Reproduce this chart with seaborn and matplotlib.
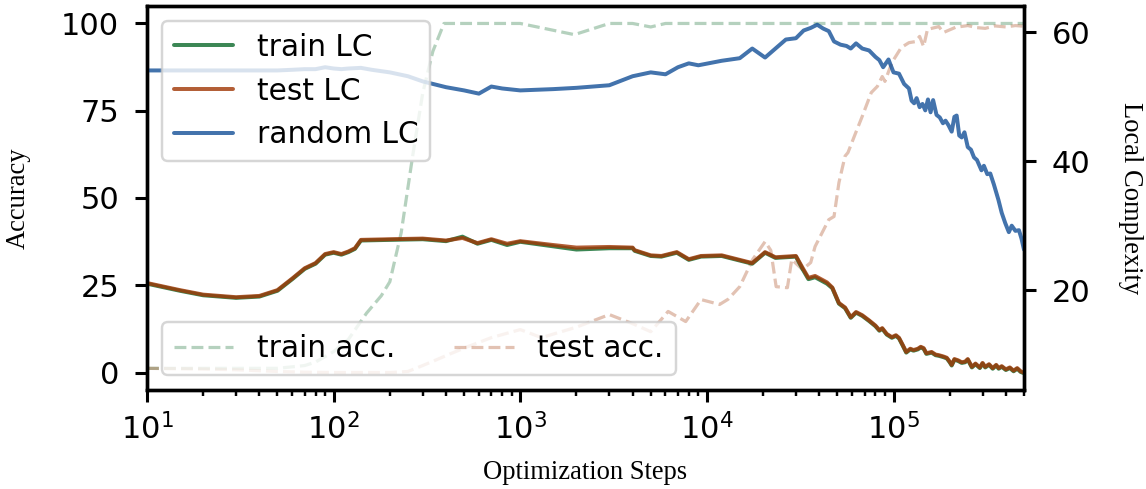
import numpy as np
import pandas as pd
import matplotlib
matplotlib.use("Agg")
import matplotlib.pyplot as plt
import seaborn as sns

# ---------------- data ----------------
rand_steps = [10, 20, 30, 40, 50, 60, 70, 80, 90, 100, 110, 120, 140, 160, 200, 250, 300, 400,
              500, 600, 700, 800, 1000, 1500, 2000, 3000, 4000, 5000, 6000, 7000, 8000, 9000,
              12000, 15000, 17500, 20500, 26500, 30000, 33000, 36000, 39000, 42000, 45000,
              48000, 52000, 56000, 59000, 63000, 68000, 74000, 80000, 84000, 88000, 94000,
              100000, 107000, 114000, 121000, 125000, 129000, 133000, 138000, 143000, 148000,
              153000, 158000, 163000, 170000, 177000, 184000, 190000, 197000, 205000, 212000,
              218000, 225000, 232000, 240000, 250000, 260000, 270000, 280000, 296000, 305000,
              318000, 330000, 345000, 365000, 380000, 397000, 415000, 430000, 450000, 470000,
              485000, 500000]
rand_lc = [54.1, 54.1, 54.1, 54.1, 54.1, 54.2, 54.3, 54.3, 54.6, 54.4, 54.3, 54.4, 54.5, 54.2,
           53.8, 53.2, 52.4, 51.5, 51.0, 50.5, 51.6, 51.3, 51.0, 51.2, 51.4, 51.8, 53.2, 53.8,
           53.5, 54.6, 55.2, 54.9, 55.6, 56.0, 57.5, 56.1, 58.9, 59.1, 60.3, 60.7, 61.2, 60.6,
           60.2, 58.6, 58.1, 57.9, 57.5, 58.3, 57.5, 57.2, 56.2, 55.7, 54.6, 55.8, 53.8, 53.6,
           52.0, 51.3, 49.4, 49.0, 49.8, 48.4, 48.9, 47.9, 49.6, 47.6, 49.5, 47.2, 46.8, 45.9,
           46.3, 45.6, 44.6, 46.9, 47.1, 44.0, 43.7, 44.5, 42.2, 41.8, 40.6, 40.2, 38.6, 39.3,
           38.0, 38.1, 36.4, 34.0, 32.0, 30.4, 29.0, 30.0, 29.2, 29.3, 28.0, 26.3]

lc_steps = [10, 15, 20, 30, 40, 50, 60, 70, 80, 90, 100, 110, 120, 130, 140, 200, 300, 400, 490,
            590, 700, 850, 1000, 1500, 2000, 3000, 4000, 4100, 5000, 5700, 6900, 8000, 9300,
            12000, 17500, 20500, 23300, 30000, 32500, 35000, 38000, 44000, 47000, 51000, 55000,
            59000, 63000, 68000, 74000, 80000, 84000, 87000, 92000, 98000, 103000, 107000,
            112000, 117000, 123000, 128000, 135000, 140000, 145000, 150000, 160000, 168000,
            175000, 185000, 193000, 200000, 205000, 212000, 222000, 232000, 242000, 250000,
            263000, 275000, 290000, 300000, 310000, 325000, 340000, 355000, 366000, 380000,
            400000, 420000, 440000, 460000, 480000, 500000]
test_lc = [21.1, 20.0, 19.3, 18.9, 19.1, 20.0, 21.8, 23.4, 24.2, 25.6, 25.9, 25.6, 26.0, 26.5,
           27.8, 27.9, 28.0, 27.7, 28.1, 27.3, 27.9, 27.2, 27.6, 27.0, 26.6, 26.7, 26.6, 26.2,
           25.4, 25.3, 25.9, 24.8, 25.3, 25.4, 24.2, 25.9, 25.1, 25.3, 23.5, 21.9, 22.2, 21.2,
           20.4, 18.0, 17.3, 15.8, 16.6, 16.1, 15.3, 14.5, 13.8, 14.1, 13.2, 12.7, 13.0, 12.6,
           11.5, 10.4, 10.9, 10.7, 10.9, 11.2, 11.0, 10.2, 10.4, 10.0, 9.9, 9.7, 9.5, 8.9, 8.4,
           9.3, 9.1, 8.8, 8.9, 9.3, 8.1, 8.6, 8.0, 8.7, 8.1, 8.5, 7.9, 8.4, 7.9, 8.2, 7.7, 8.0,
           7.5, 7.9, 7.4, 7.2]
train_lc = [21.0, 19.9, 19.2, 18.8, 19.0, 19.9, 21.7, 23.3, 24.1, 25.5, 25.8, 25.5, 25.9, 26.4,
            27.7, 27.8, 27.9, 27.6, 28.3, 27.2, 27.8, 27.0, 27.5, 26.8, 26.3, 26.5, 26.5, 26.1,
            25.3, 25.2, 25.8, 24.7, 25.2, 25.3, 24.1, 25.8, 25.0, 25.2, 23.3, 21.7, 22.0, 21.0,
            20.3, 17.9, 17.2, 15.7, 16.5, 16.0, 15.2, 14.4, 13.7, 14.0, 13.1, 12.6, 12.9, 12.5,
            11.4, 10.3, 10.8, 10.6, 10.8, 11.1, 10.9, 10.1, 10.3, 9.9, 9.8, 9.6, 9.4, 8.8, 8.3,
            9.2, 9.0, 8.7, 8.8, 9.2, 8.0, 8.5, 7.9, 8.6, 8.0, 8.4, 7.8, 8.3, 7.8, 8.1, 7.6, 7.9,
            7.4, 7.8, 7.3, 7.1]

train_acc_steps = [10, 20, 30, 50, 70, 80, 100, 120, 150, 180, 200, 230, 265, 300, 340, 390,
                   500, 1000, 1950, 3000, 4000, 5000, 6000, 10000, 100000, 500000]
train_acc = [1.2, 1.2, 1.2, 1.2, 2.0, 3.0, 6.0, 9.5, 17.0, 22.0, 26.0, 40.0, 62.0, 80.0, 92.0,
             100.0, 100.0, 100.0, 96.8, 100.0, 100.0, 99.0, 100.0, 100.0, 100.0, 100.0]

test_acc_steps = [10, 20, 30, 50, 70, 100, 200, 250, 300, 350, 415, 500, 700, 1000, 1300, 2000,
                  3000, 4000, 5000, 6200, 7700, 9300, 11700, 13000, 15000, 17600, 20500, 22000,
                  23500, 27000, 28500, 32500, 36000, 38000, 45000, 48000, 51000, 55000, 57000,
                  62000, 68000, 76000, 82000, 87000, 90000, 98000, 110000, 121000, 131000,
                  138000, 145000, 152000, 175000, 185000, 215000, 250000, 280000, 310000,
                  350000, 400000, 450000, 500000]
test_acc = [1.2, 1.0, 0.8, 0.3, 0.1, 0.0, 0.0, 0.3, 2.0, 3.5, 5.2, 7.0, 10.0, 12.3, 10.0, 13.0,
            16.6, 14.0, 11.7, 17.5, 14.6, 20.9, 19.5, 21.0, 24.6, 32.4, 37.5, 35.0, 24.6, 24.3,
            32.4, 29.5, 31.5, 36.1, 43.8, 44.7, 54.4, 62.0, 63.0, 68.0, 73.4, 80.2, 82.0, 84.8,
            83.4, 88.8, 93.1, 94.5, 94.8, 96.3, 93.4, 98.3, 99.1, 97.4, 98.9, 99.4, 98.8, 98.6,
            99.3, 99.0, 99.4, 99.2]

y_left_ticks = [0, 25, 50, 75, 100]
y_right_ticks = [20, 40, 60]

# ---------------- style ----------------
sns.set_style("ticks")
plt.rcParams.update({
    "font.family": ["DejaVu Sans"],
    "font.size": 10,
    "axes.edgecolor": "black",
    "axes.linewidth": 1.1,
    "xtick.color": "black",
    "ytick.color": "black",
    "text.color": "black",
    "axes.labelcolor": "black",
    "xtick.major.size": 3.9,
    "ytick.major.size": 3.9,
    "xtick.major.width": 1.0,
    "ytick.major.width": 1.0,
    "xtick.minor.size": 1.8,
    "xtick.minor.width": 0.8,
    "ytick.major.pad": 5.2,
    "legend.frameon": True,
    "legend.framealpha": 0.8,
    "legend.edgecolor": "0.8",
    "legend.fancybox": True,
})

c_train = (11 / 255, 105 / 255, 42 / 255)
c_test = (160 / 255, 54 / 255, 4 / 255)
c_rand = (20 / 255, 80 / 255, 152 / 255)

fig = plt.figure(figsize=(1146 / 220, 489 / 220), dpi=220)
ax1 = fig.add_axes([0.1283, 0.2025, 0.7652, 0.7852])
ax2 = ax1.twinx()

df_tr_acc = pd.DataFrame({"step": train_acc_steps, "acc": train_acc})
df_te_acc = pd.DataFrame({"step": test_acc_steps, "acc": test_acc})
df_rand = pd.DataFrame({"step": rand_steps, "lc": rand_lc})
df_lc = pd.DataFrame({"step": lc_steps, "train": train_lc, "test": test_lc})

sns.lineplot(data=df_tr_acc, x="step", y="acc", ax=ax1, color=c_train, alpha=0.3,
             linestyle="--", linewidth=1.05, legend=False)
h_tr_acc = ax1.lines[-1]
sns.lineplot(data=df_te_acc, x="step", y="acc", ax=ax1, color=c_test, alpha=0.3,
             linestyle="--", linewidth=1.05, legend=False)
h_te_acc = ax1.lines[-1]

sns.lineplot(data=df_lc, x="step", y="train", ax=ax2, color=c_train, alpha=0.8,
             linewidth=1.3, legend=False)
h_tr = ax2.lines[-1]
sns.lineplot(data=df_lc, x="step", y="test", ax=ax2, color=c_test, alpha=0.8,
             linewidth=1.3, legend=False)
h_te = ax2.lines[-1]
sns.lineplot(data=df_rand, x="step", y="lc", ax=ax2, color=c_rand, alpha=0.8,
             linewidth=1.3, legend=False)
h_ra = ax2.lines[-1]

ax1.set_xscale("log")
ax1.set_xlim(10, 5e5)
ax1.set_ylim(-5, 105)
ax1.set_yticks(y_left_ticks)
ax2.set_ylim(4.5, 64.1)
ax2.set_yticks(y_right_ticks)

serif = {"family": "Liberation Serif", "size": 8.7}
ax1.set_xlabel("Optimization Steps", fontdict=serif, labelpad=5)
ax1.set_ylabel("Accuracy", fontdict=serif, labelpad=10)
ax2.set_ylabel("Local Complexity", fontdict=serif, rotation=270, va="bottom", labelpad=9)

for ax in (ax1, ax2):
    ax.tick_params(axis="both", which="major", labelsize=10)
ax2.tick_params(axis="x", which="both", top=False)

leg1 = ax2.legend(handles=[h_tr, h_te, h_ra], labels=["train LC", "test LC", "random LC"],
                  loc="upper left", fontsize=9.7)
leg1.get_frame().set_linewidth(0.8)
ax2.add_artist(leg1)
leg2 = ax2.legend(handles=[h_tr_acc, h_te_acc], labels=["train acc.", "test acc."],
                  loc="lower left", ncol=2, columnspacing=2.0, fontsize=9.7)
leg2.get_frame().set_linewidth(0.8)

fig.savefig("out.png", dpi=220)
